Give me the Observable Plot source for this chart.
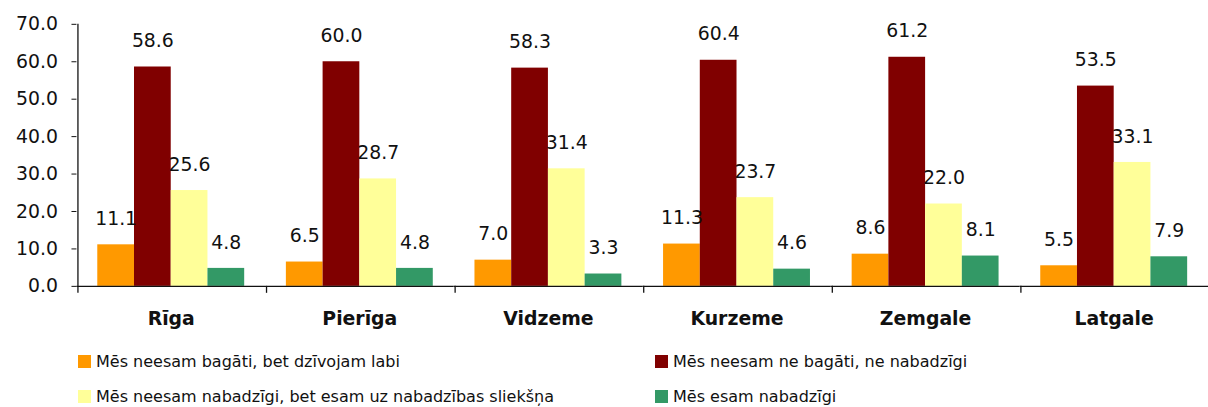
<!DOCTYPE html>
<html>
<head>
<meta charset="utf-8">
<script src="https://cdn.jsdelivr.net/npm/d3@7"></script>
<script src="https://cdn.jsdelivr.net/npm/@observablehq/plot@0.6"></script>
<style>
  html, body { margin: 0; padding: 0; background: #ffffff; overflow: hidden; }
  #wrap { position: relative; width: 1208px; height: 407px; overflow: hidden; font-family: "DejaVu Sans", Verdana, sans-serif; }
  #chart { position: absolute; left: 0; top: 0; }
  .leg { position: absolute; display: flex; align-items: center; font-size: 16px; color: #111; white-space: nowrap; }
  .sw { width: 13px; height: 13px; margin-right: 5px; display: inline-block; }
</style>
</head>
<body>
<div id="wrap">
  <div id="chart"></div>
  <div id="legend"></div>
</div>
<script>
const regions = ["Rīga", "Pierīga", "Vidzeme", "Kurzeme", "Zemgale", "Latgale"];
const series = [
  "Mēs neesam bagāti, bet dzīvojam labi",
  "Mēs neesam ne bagāti, ne nabadzīgi",
  "Mēs neesam nabadzīgi, bet esam uz nabadzības sliekšņa",
  "Mēs esam nabadzīgi"
];
const colors = ["#ff9900", "#800000", "#ffff99", "#339966"];
const valuesLiving   = [11.1, 6.5, 7.0, 11.3, 8.6, 5.5];
const valuesNeither  = [58.6, 60.0, 58.3, 60.4, 61.2, 53.5];
const valuesThreshold= [25.6, 28.7, 31.4, 23.7, 22.0, 33.1];
const valuesPoor     = [4.8, 4.8, 3.3, 4.6, 8.1, 7.9];
const yTicks = [0, 10, 20, 30, 40, 50, 60, 70];

const seriesValues = [valuesLiving, valuesNeither, valuesThreshold, valuesPoor];
const data = [];
regions.forEach((r, i) => {
  series.forEach((s, j) => data.push({region: r, series: s, value: seriesValues[j][i]}));
});

const W = 1217, ML = 76, MR = 0;
const outerPad = 0.52;
const groupW = (W - ML - MR) / regions.length;
const step = groupW / (series.length + 2 * outerPad);
const edgeDx = -step * (0.5 + outerPad);

const chart = Plot.plot({
  width: W,
  height: 340,
  marginLeft: ML,
  marginRight: MR,
  marginTop: 24,
  marginBottom: 52,
  style: {fontFamily: "DejaVu Sans, Verdana, sans-serif", background: "transparent", color: "#111"},
  fx: {domain: regions, padding: 0, label: null, axis: null},
  x: {domain: series, paddingInner: 0, paddingOuter: outerPad, axis: null},
  y: {domain: [0, 70], label: null},
  color: {domain: series, range: colors},
  marks: [
    Plot.axisY({ticks: yTicks, tickFormat: d => d.toFixed(1), tickSize: 5, tickPadding: 14, fontSize: 19, label: null, stroke: "#111"}),
    Plot.axisFx({anchor: "bottom", tickSize: 0, tickPadding: 25, fontSize: 19, fontWeight: "bold", label: null}),
    Plot.barY(data, {fx: "region", x: "series", y: "value", fill: "series", inset: 0}),
    Plot.ruleY([0], {stroke: "#111", strokeWidth: 1.3}),
    Plot.ruleX(regions.slice(0, 1), {fx: d => d, x: () => series[0], y1: 70, y2: 0, dx: edgeDx, insetBottom: -7, stroke: "#111", strokeWidth: 1.3}),
    Plot.ruleX(regions.slice(1), {fx: d => d, x: () => series[0], y1: 0, y2: 0, dx: edgeDx, insetBottom: -7, stroke: "#111", strokeWidth: 1.3}),
    Plot.text(data, {fx: "region", x: "series", y: "value", text: d => d.value.toFixed(1), lineAnchor: "bottom", dy: -20, fontSize: 19, fill: "#111"})
  ]
});
document.getElementById("chart").appendChild(chart);

const legendPos = [
  {left: 78, top: 352}, {left: 655, top: 352},
  {left: 78, top: 387}, {left: 655, top: 387}
];
const legend = document.getElementById("legend");
series.forEach((s, j) => {
  const item = document.createElement("div");
  item.className = "leg";
  item.style.left = legendPos[j].left + "px";
  item.style.top = legendPos[j].top + "px";
  const sw = document.createElement("span");
  sw.className = "sw";
  sw.style.background = colors[j];
  item.appendChild(sw);
  item.appendChild(document.createTextNode(s));
  legend.appendChild(item);
});
</script>
</body>
</html>
